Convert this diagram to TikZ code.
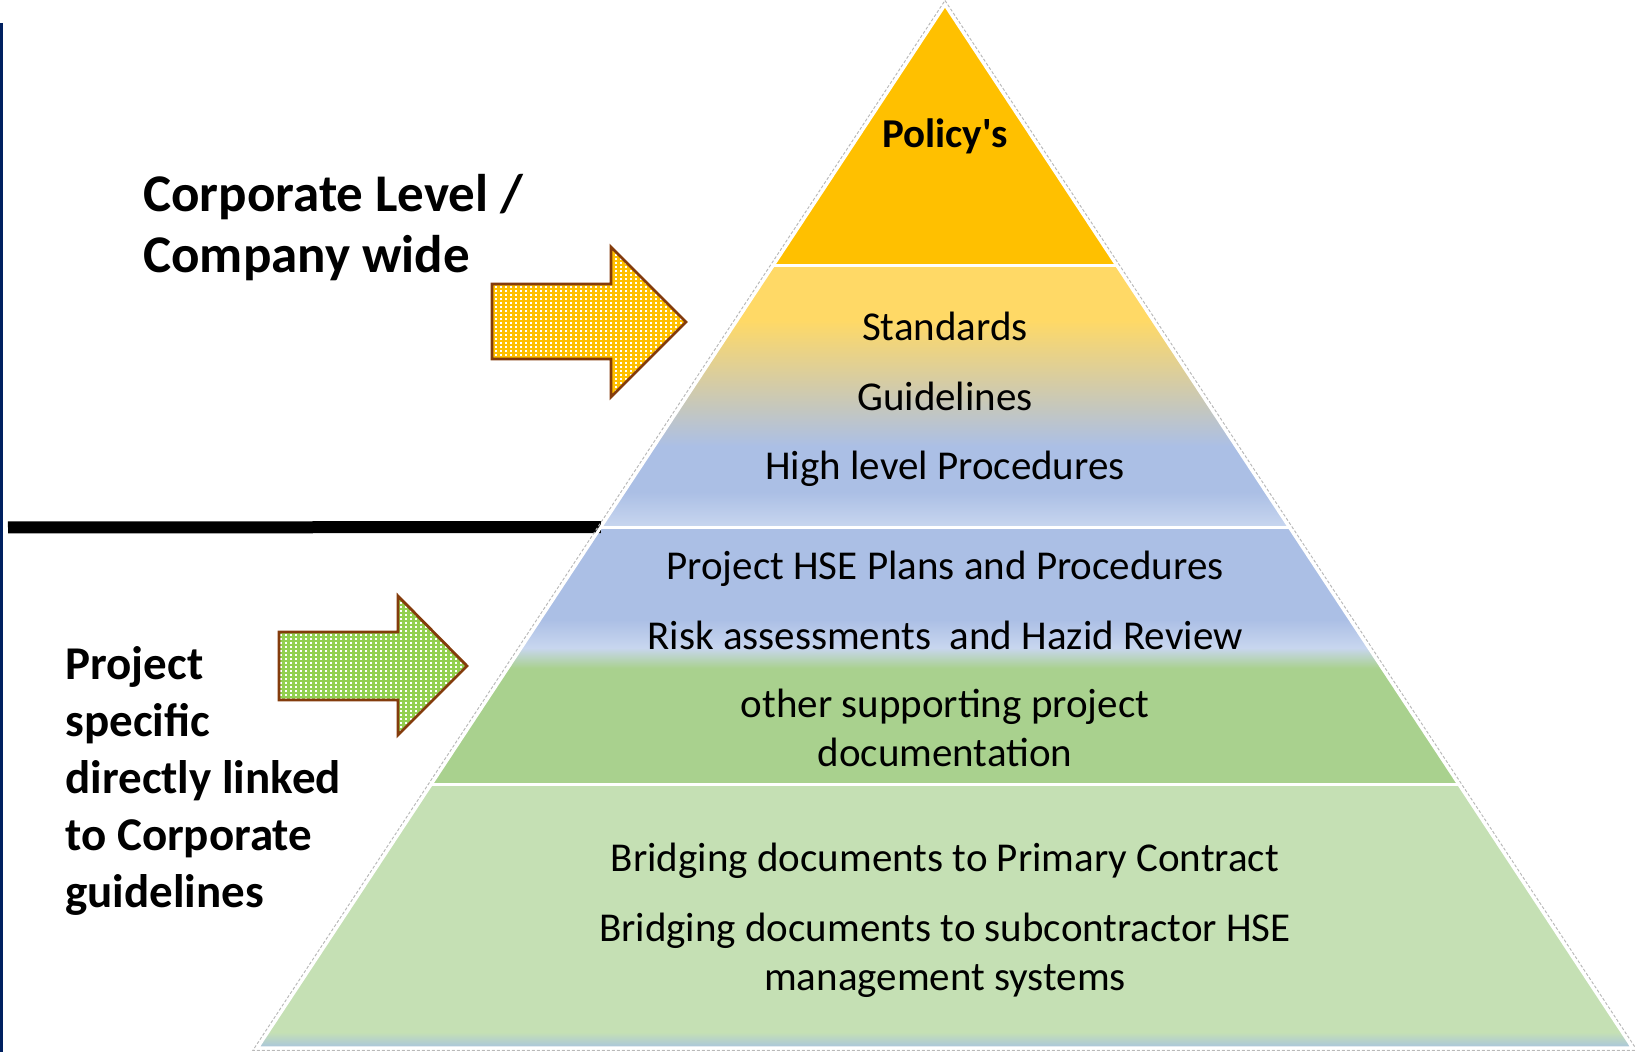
\documentclass[tikz,border=0pt]{standalone}
\usepackage{fontspec}
\setmainfont{Carlito}
\usepackage{tikz}
\usetikzlibrary{calc, patterns}

\definecolor{policygold}{HTML}{FFC000}
\definecolor{stdyellow}{HTML}{FFD966}
\definecolor{procblue}{HTML}{ABBFE5}
\definecolor{paleblue}{HTML}{C8D6EF}
\definecolor{projgreen}{HTML}{A9D18E}
\definecolor{bridgegreen}{HTML}{C5E0B4}
\definecolor{baseblue}{HTML}{A8C4DE}
\definecolor{arrowbrown}{HTML}{843C0C}
\definecolor{arrowgreen}{HTML}{92D050}
\definecolor{marginnavy}{HTML}{002060}

% band shadings, 25bp = bottom of band, 75bp = top of band
\pgfdeclareverticalshading{standardsband}{100bp}{color(0bp)=(paleblue); color(25bp)=(paleblue); color(31.7bp)=(procblue); color(40.4bp)=(procblue); color(64.5bp)=(stdyellow); color(100bp)=(stdyellow)}
\pgfdeclareverticalshading{projectband}{100bp}{color(0bp)=(projgreen); color(47.5bp)=(projgreen); color(51.5bp)=(paleblue); color(57bp)=(procblue); color(100bp)=(procblue)}
\pgfdeclareverticalshading{bridgeband}{100bp}{color(0bp)=(baseblue); color(25bp)=(baseblue); color(28bp)=(bridgegreen); color(100bp)=(bridgegreen)}

% small white squares on the block arrows
\pgfdeclarepatternformonly{arrowdots}{\pgfqpoint{-0.1pt}{-0.1pt}}{\pgfqpoint{2.6pt}{2.1pt}}{\pgfqpoint{2.5pt}{2pt}}{%
  \pgfpathrectangle{\pgfpointorigin}{\pgfqpoint{1.1pt}{1pt}}\pgfusepath{fill}}

\begin{document}
\begin{tikzpicture}[
    x=0.5pt, y=-0.5pt,
    bandline/.style={white, line width=1.5pt},
    rim/.style={gray!55, line width=0.5pt, dash pattern=on 1.5pt off 1pt},
    blockarrow/.style={draw=arrowbrown, line width=1.4pt, line join=miter,
        preaction={fill=#1}, preaction={pattern=arrowdots, pattern color=white}},
    bandtext/.style={font=\fontsize{20.5}{24.5}\selectfont, anchor=base, inner sep=0pt},
    sidetext/.style={font=\bfseries\fontsize{23.5}{28.5}\selectfont, align=left, anchor=base west, inner sep=0pt},
    ]
    \useasboundingbox (0,0) rectangle (1635,1052);

    % corners of the pyramid
    \coordinate (apex) at (945,5);
    \coordinate (baseL) at (257.5,1048);
    \coordinate (baseR) at (1632.5,1048);
    % band edges
    \coordinate (l1) at ($(apex)!0.2493!(baseL)$);
    \coordinate (r1) at ($(apex)!0.2493!(baseR)$);
    \coordinate (l2) at ($(apex)!0.5005!(baseL)$);
    \coordinate (r2) at ($(apex)!0.5005!(baseR)$);
    \coordinate (l3) at ($(apex)!0.7469!(baseL)$);
    \coordinate (r3) at ($(apex)!0.7469!(baseR)$);

    % Bands
    \fill[policygold] (apex) -- (r1) -- (l1) -- cycle;
    \shade[shading=standardsband] (l1) -- (r1) -- (r2) -- (l2) -- cycle;
    \shade[shading=projectband] (l2) -- (r2) -- (r3) -- (l3) -- cycle;
    \shade[shading=bridgeband] (l3) -- (r3) -- (baseR) -- (baseL) -- cycle;

    % Divider between corporate and project level
    \coordinate (barstart) at (8,527.5);
    \draw[line width=6pt] (barstart) -- (l2);

    % Rim and band lines
    \draw[rim] (945,0.5) -- (1637.2,1050.5) -- (252.8,1050.5) -- cycle;
    \draw[bandline] (apex) -- (baseR) -- (baseL) -- cycle;
    \draw[bandline] (l1) -- (r1);
    \draw[bandline] (l2) -- (r2);
    \draw[bandline] (l3) -- (r3);

    % Band texts (multi-line nodes sit on their last line)
    \node[bandtext, font=\bfseries\fontsize{20.5}{24.5}\selectfont] (policy) at (945,148) {Policy\textquotesingle s};
    \node[bandtext] (standards) at (945,341) {Standards};
    \node[bandtext] (guidelines) at (945,411) {Guidelines};
    \node[bandtext] (procedures) at (945,480) {High level Procedures};
    \node[bandtext] (hseplans) at (945,580) {Project HSE Plans and Procedures};
    \node[bandtext] (riskassess) at (945,650) {Risk assessments\ \ and Hazid Review};
    \node[bandtext, align=center] (supportdocs) at (945,767) {other supporting project\\documentation};
    \node[bandtext] (primary) at (945,872) {Bridging documents to Primary Contract};
    \node[bandtext, align=center] (subcontract) at (945,991) {Bridging documents to subcontractor HSE\\management systems};

    % Side labels
    \node[sidetext, font=\bfseries\fontsize{26.5}{30.5}\selectfont] (corporate) at (143,273) {Corporate Level /\\Company wide};
    \node[sidetext] (projectspec) at (65,908) {Project\\specific\\directly linked\\to Corporate\\guidelines};

    % Block arrows
    \draw[blockarrow=policygold] (492,284) -- (611,284) -- (611,247) -- (686,322)
        -- (611,397) -- (611,359) -- (492,359) -- cycle;
    \draw[blockarrow=arrowgreen] (279,632) -- (398,632) -- (398,596) -- (467,666)
        -- (398,735) -- (398,700) -- (279,700) -- cycle;

    % Left margin rule
    \draw[marginnavy, line width=1.5pt] (1.5,23) -- (1.5,1052);
\end{tikzpicture}
\end{document}
